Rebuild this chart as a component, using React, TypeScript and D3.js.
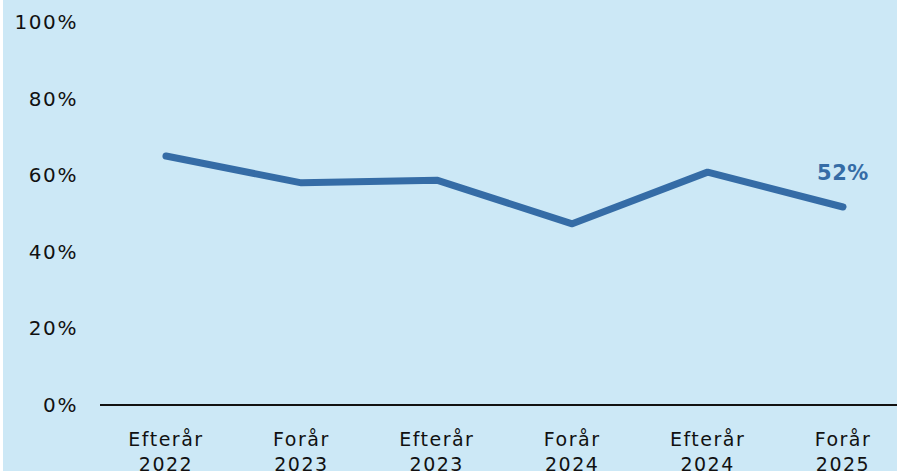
import React from 'react';
import { scaleLinear, scalePoint, line, curveLinear } from 'd3';

const seasons = ['Efterår', 'Forår', 'Efterår', 'Forår', 'Efterår', 'Forår'];
const years = ['2022', '2023', '2023', '2024', '2024', '2025'];
const shares = [65, 58, 58.7, 47.3, 60.8, 51.7];
const yTicks = [0, 20, 40, 60, 80, 100];
const lastLabel = '52%';

const W = 897;
const H = 471;
const font = '"DejaVu Sans", sans-serif';
const blue = '#356ca6';

const App: React.FC = () => {
  const keys = seasons.map((_, i) => String(i));
  const x = scalePoint<string>().domain(keys).range([166, 843]);
  const y = scaleLinear().domain([0, 100]).range([405, 22]);

  const path = line<number>()
    .x((_, i) => x(keys[i])!)
    .y(d => y(d))
    .curve(curveLinear)(shares);

  const last = shares.length - 1;

  return (
    <svg
      width={W}
      height={H}
      style={{ position: 'fixed', left: 0, top: 0, display: 'block' }}
      fontFamily={font}
    >
      <rect x={3} y={0} width={W - 3} height={H} fill="#cce8f6" />
      {yTicks.map(t => (
        <text
          key={t}
          x={78}
          y={y(t)}
          dy="0.35em"
          textAnchor="end"
          fontSize={20}
          letterSpacing={1.6}
          fill="#111"
        >
          {t}%
        </text>
      ))}
      <line x1={100} x2={W} y1={y(0)} y2={y(0)} stroke="#111" strokeWidth={2} />
      {keys.map((k, i) => (
        <text key={k} textAnchor="middle" fontSize={19} fill="#111" letterSpacing={1.5}>
          <tspan x={x(k)!} y={446}>{seasons[i]}</tspan>
          <tspan x={x(k)!} y={471}>{years[i]}</tspan>
        </text>
      ))}
      <path d={path ?? ''} fill="none" stroke={blue} strokeWidth={7} strokeLinecap="round" strokeLinejoin="round" />
      <text
        x={x(keys[last])!}
        y={y(shares[last]) - 27}
        textAnchor="middle"
        fontSize={21}
        fontWeight="bold"
        letterSpacing={0.5}
        fill={blue}
      >
        {lastLabel}
      </text>
    </svg>
  );
};

export default App;
